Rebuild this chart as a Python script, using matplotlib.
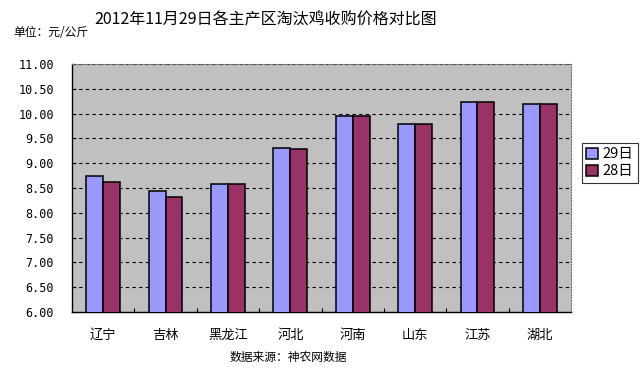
import matplotlib
matplotlib.use("Agg")
import matplotlib.pyplot as plt
import numpy as np

plt.rcParams['font.family'] = ['Noto Sans CJK SC', 'DejaVu Sans']

categories = ['辽宁', '吉林', '黑龙江', '河北', '河南', '山东', '江苏', '湖北']
series_names = ['29日', '28日']
values_29 = [8.74, 8.44, 8.58, 9.31, 9.95, 9.79, 10.24, 10.20]
values_28 = [8.62, 8.32, 8.58, 9.29, 9.95, 9.79, 10.24, 10.20]
yticks = [6.0, 6.5, 7.0, 7.5, 8.0, 8.5, 9.0, 9.5, 10.0, 10.5, 11.0]

fig = plt.figure(figsize=(6.41, 3.72), dpi=100)
ax = fig.add_axes([72/641, 1-312/372, (571-72)/641, (312-64)/372])
ax.set_facecolor('#C0C0C0')

x = np.arange(len(categories))
w = 0.27
ax.bar(x - w/2, values_29, w, color='#9999FF', edgecolor='black', linewidth=1.1, label=series_names[0], zorder=3)
ax.bar(x + w/2, values_28, w, color='#993366', edgecolor='black', linewidth=1.1, label=series_names[1], zorder=3)

ax.set_xlim(-0.5, len(categories) - 0.5)
ax.set_ylim(6.0, 11.0)
ax.set_yticks(yticks)
ax.set_yticklabels([f'{v:.2f}' for v in yticks], fontsize=8.5, family=['DejaVu Sans Mono'])
ax.set_xticks(x)
ax.set_xticklabels(categories, fontsize=9.5)
ax.tick_params(axis='x', which='major', length=0, pad=12)
ax.set_xticks(np.arange(0.5, len(categories) - 0.5, 1.0), minor=True)
ax.tick_params(axis='x', which='minor', direction='in', length=3, width=0.8)
ax.tick_params(axis='y', which='major', direction='in', length=3, width=0.8, pad=13)

for v in yticks[1:]:
    ax.axhline(v, color='black', linestyle=(0, (3, 3)), linewidth=0.8, zorder=1)

for s in ['top', 'right']:
    ax.spines[s].set_linestyle((0, (1, 1.5)))
    ax.spines[s].set_color('#707070')
    ax.spines[s].set_linewidth(0.8)
for s in ['left', 'bottom']:
    ax.spines[s].set_color('black')
    ax.spines[s].set_linewidth(1.0)

leg = fig.legend(loc='upper left', bbox_to_anchor=(582/641, 1-143/372), fontsize=10.5,
                 frameon=True, fancybox=False, edgecolor='black', handlelength=0.8,
                 handleheight=0.8, handletextpad=0.3, borderpad=0.3, labelspacing=0.2,
                 borderaxespad=0)
leg.get_frame().set_linewidth(0.8)

fig.text(266/641, 1-20/372, '2012年11月29日各主产区淘汰鸡收购价格对比图', ha='center', va='center', fontsize=11.5)
fig.text(13/641, 1-33/372, '单位：元/公斤', ha='left', va='center', fontsize=8.5)
fig.text(288/641, 1-357/372, '数据来源：神农网数据', ha='center', va='center', fontsize=8.5)

fig.savefig('out.png', dpi=100, facecolor='white')
